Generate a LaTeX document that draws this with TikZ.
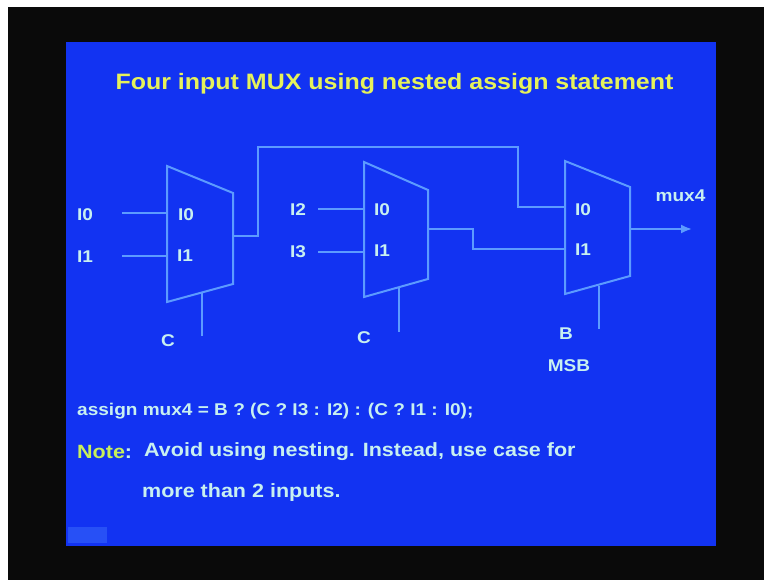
\documentclass[tikz,border=0pt]{standalone}
\usepackage{fontspec}
\setmainfont[FakeStretch=1.12]{Liberation Sans}
\usetikzlibrary{arrows.meta}
\definecolor{slide}{HTML}{1233F2}
\definecolor{wirecol}{HTML}{5C9BFF}
\definecolor{labelcol}{HTML}{C8F0F0}
\definecolor{titlecol}{HTML}{E6F25A}
\definecolor{notecol}{HTML}{C8F05A}
\definecolor{framecol}{HTML}{0A0A0A}
\begin{document}
\begin{tikzpicture}[x=1pt,y=-1pt]
\tikzset{%
  >={Latex[width=9pt,length=11pt]},
  % looks of the slide
  mux/.style = {draw=wirecol, line width=2pt, line join=miter},
  wire/.style = {draw=wirecol, line width=2pt},
  pin/.style = {text=labelcol, font=\fontsize{17}{19}\selectfont\bfseries, inner sep=0pt},
  line/.style = {text=labelcol, font=\fontsize{17}{20}\selectfont\bfseries, inner sep=0pt, anchor=west},
  noteline/.style = {line, font=\fontsize{19.2}{22}\selectfont\bfseries},
  heading/.style = {text=titlecol, font=\fontsize{22.3}{25}\selectfont\bfseries, inner sep=0pt},
}
\fill[white] (0,0) rectangle (764,580);
\fill[framecol] (8,7) rectangle (764,580);
\fill[slide] (66,42) rectangle (716,546);
\useasboundingbox (0,0) rectangle (764,580);

\node (title) [heading] at (394.5,84) {Four input MUX using nested assign statement};

% corners of the three muxes
\coordinate (m1a) at (167,166);
\coordinate (m1b) at (233,193);
\coordinate (m1c) at (233,284);
\coordinate (m1d) at (167,302);
\coordinate (m2a) at (364,162);
\coordinate (m2b) at (428,190);
\coordinate (m2c) at (428,279);
\coordinate (m2d) at (364,297);
\coordinate (m3a) at (565,161);
\coordinate (m3b) at (630,187);
\coordinate (m3c) at (630,276);
\coordinate (m3d) at (565,294);
\draw[mux] (m1a) -- (m1b) -- (m1c) -- (m1d) -- cycle;
\draw[mux] (m2a) -- (m2b) -- (m2c) -- (m2d) -- cycle;
\draw[mux] (m3a) -- (m3b) -- (m3c) -- (m3d) -- cycle;

% labels
\node (in0) [pin] at (85,215) {I0};
\node (in1) [pin] at (85,257) {I1};
\node (in2) [pin] at (298,210) {I2};
\node (in3) [pin] at (298,252) {I3};
\node (m1i0) [pin] at (186,215) {I0};
\node (m1i1) [pin] at (185,256) {I1};
\node (m2i0) [pin] at (382,210) {I0};
\node (m2i1) [pin] at (382,251) {I1};
\node (m3i0) [pin] at (583,210) {I0};
\node (m3i1) [pin] at (583,250) {I1};
\node (sel1) [pin] at (168,341) {C};
\node (sel2) [pin] at (364,338) {C};
\node (sel3) [pin] at (566,334) {B};
\node (msb) [pin] at (569,366) {MSB};
\node (mux4) [pin] at (680.5,196) {mux4};

% free ends of the wires
\coordinate (w0) at (122,213);
\coordinate (w1) at (122,256);
\coordinate (w2) at (318,209);
\coordinate (w3) at (318,252);
\coordinate (p0) at (167,213);
\coordinate (p1) at (167,256);
\coordinate (p2) at (364,209);
\coordinate (p3) at (364,252);
\coordinate (q0) at (565,207);
\coordinate (q1) at (565,249);
\coordinate (out1) at (233,236);
\coordinate (out2) at (428,229);
\coordinate (out3) at (630,229);
\coordinate (tip) at (692,229);
\coordinate (s1a) at (202,293);
\coordinate (s1b) at (202,336);
\coordinate (s2a) at (399,288);
\coordinate (s2b) at (399,332);
\coordinate (s3a) at (599,286);
\coordinate (s3b) at (599,329);

\draw[wire] (w0) -- (p0);
\draw[wire] (w1) -- (p1);
\draw[wire] (w2) -- (p2);
\draw[wire] (w3) -- (p3);
\draw[wire] (out1) -| (258,147) -| (518,207) -- (q0);
\draw[wire] (out2) -| (473,249) -- (q1);
\draw[wire,->] (out3) -- (tip);
\draw[wire] (s1a) -- (s1b);
\draw[wire] (s2a) -- (s2b);
\draw[wire] (s3a) -- (s3b);

% text under the muxes
\node (assign) [line] at (77,411) {assign mux4 = B ? (C ? I3 : I2) : (C ? I1 : I0);};
\node (note) [noteline] at (77,452) {\textcolor{notecol}{Note}:};
\node (avoid) [noteline] at (144,452) {Avoid using nesting. Instead, use case for};
\node (more) [noteline] at (142,493) {more than 2 inputs.};

% small button in the corner
\node (button) [fill=wirecol!28!slide, minimum width=39pt, minimum height=16pt, inner sep=0pt] at (87.5,535) {};
\end{tikzpicture}
\end{document}
